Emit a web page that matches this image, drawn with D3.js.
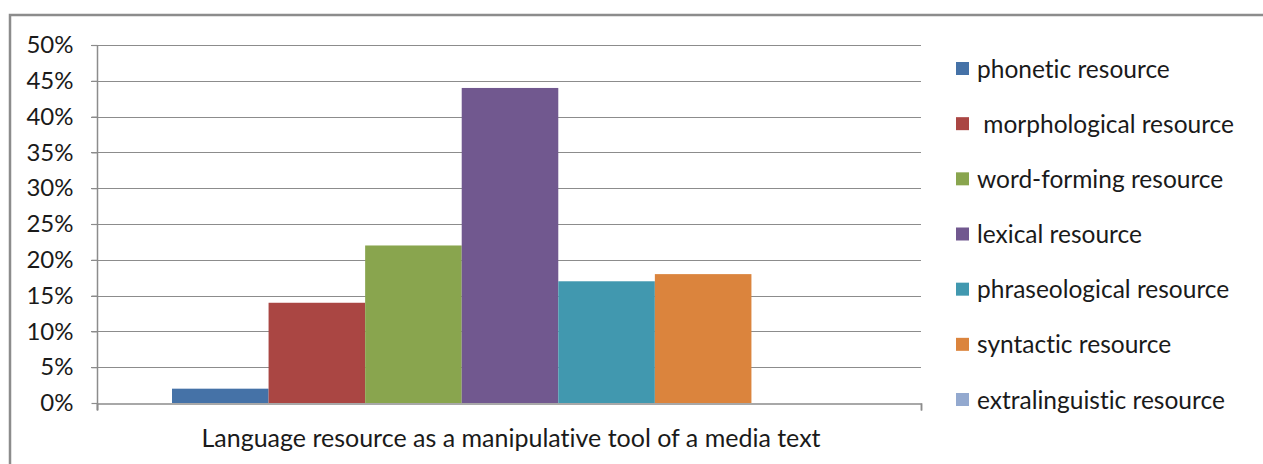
<!DOCTYPE html>
<html>
<head>
<meta charset="utf-8">
<script src="https://cdn.jsdelivr.net/npm/d3@7"></script>
<style>
  html, body { margin: 0; padding: 0; background: #fff; }
  svg { display: block; font-family: Lato, "Open Sans", sans-serif; font-variant-ligatures: none; font-feature-settings: "liga" 0; }
</style>
</head>
<body>
<svg id="chart" width="1263" height="464"></svg>
<script>
// Share of each language resource used as a manipulative tool
const category = "Language resource as a manipulative tool of a media text";
const seriesNames = [
  "phonetic resource",
  " morphological resource",
  "word-forming resource",
  "lexical resource",
  "phraseological resource",
  "syntactic resource",
  "extralinguistic resource"
];
const seriesValues = [0.02, 0.14, 0.22, 0.44, 0.17, 0.18, 0.0];
const seriesColors = ["#4572a7", "#aa4643", "#89a54e", "#71588f", "#4198af", "#db843d", "#93a9cf"];
const yTicks = [0, 0.05, 0.10, 0.15, 0.20, 0.25, 0.30, 0.35, 0.40, 0.45, 0.50];

const svg = d3.select("#chart");
const W = 1263, H = 464;

// outer chart frame (top and left edges visible)
svg.append("path")
  .attr("d", `M10,${H} V15 H${W}`)
  .attr("fill", "none")
  .attr("stroke", "#8c8c8c")
  .attr("stroke-width", 2.5);

const plot = { left: 97, right: 921, top: 45, bottom: 403 };

const y = d3.scaleLinear().domain([0, 0.5]).range([plot.bottom, plot.top]);
const x0 = d3.scaleBand().domain([category]).range([plot.left, plot.right]).paddingInner(0).paddingOuter(0);
// bars fill the middle of the category band, leaving equal gaps on both sides
const gapFrac = 148 / 824;
const x1 = d3.scaleBand()
  .domain(d3.range(seriesNames.length))
  .range([x0(category) + x0.bandwidth() * gapFrac / 2 + 1, x0(category) + x0.bandwidth() * (1 - gapFrac / 2) + 1])
  .padding(0);

// horizontal gridlines
svg.append("g")
  .selectAll("line")
  .data(yTicks.slice(1))
  .join("line")
  .attr("x1", plot.left - 6)
  .attr("x2", plot.right)
  .attr("y1", d => Math.round(y(d)) + 0.5)
  .attr("y2", d => Math.round(y(d)) + 0.5)
  .attr("stroke", "#8c8c8c")
  .attr("stroke-width", 1.2);

// bars
svg.append("g")
  .selectAll("rect")
  .data(seriesValues)
  .join("rect")
  .attr("x", (d, i) => x1(i))
  .attr("width", x1.bandwidth())
  .attr("y", d => y(d))
  .attr("height", d => y(0) - y(d))
  .attr("fill", (d, i) => seriesColors[i]);

// y axis
const yAxis = d3.axisLeft(y)
  .tickValues(yTicks)
  .tickFormat(d3.format(".0%"))
  .tickSize(6)
  .tickPadding(18);
const gy = svg.append("g")
  .attr("transform", `translate(${plot.left + 0.5},0)`)
  .call(yAxis);
gy.select(".domain").attr("stroke", "#8c8c8c").attr("stroke-width", 1.5)
  .attr("d", `M0,${plot.top}V${plot.bottom + 7}`);
gy.selectAll(".tick line").attr("stroke", "#8c8c8c").attr("stroke-width", 1.2);
gy.selectAll(".tick text")
  .attr("fill", "#1a1a1a")
  .style("font-size", "24px")
  .style("font-family", "Lato, sans-serif");

// x axis baseline with end ticks
const xAxis = d3.axisBottom(d3.scaleLinear().domain([0, 1]).range([plot.left, plot.right]))
  .tickValues([0, 1])
  .tickSize(7)
  .tickFormat("");
const gx = svg.append("g")
  .attr("transform", `translate(0,${plot.bottom + 0.5})`)
  .call(xAxis);
gx.select(".domain").attr("stroke", "#8c8c8c").attr("stroke-width", 1.5);
gx.selectAll(".tick line").attr("stroke", "#8c8c8c").attr("stroke-width", 1.5);

// category label
svg.append("text")
  .attr("x", 511)
  .attr("y", 447)
  .attr("text-anchor", "middle")
  .attr("fill", "#1a1a1a")
  .style("font-size", "25px")
  .text(category);

// legend
const legend = svg.append("g").attr("transform", "translate(956,0)");
const rowY = d3.scaleLinear().domain([0, seriesNames.length - 1]).range([69, 400]);
const item = legend.selectAll("g")
  .data(seriesNames)
  .join("g")
  .attr("transform", (d, i) => `translate(0,${rowY(i)})`);
item.append("rect")
  .attr("x", 0)
  .attr("y", -7)
  .attr("width", 13)
  .attr("height", 13)
  .attr("fill", (d, i) => seriesColors[i]);
item.append("text")
  .attr("x", 21)
  .attr("y", 0)
  .attr("dy", "0.35em")
  .attr("fill", "#1a1a1a")
  .style("font-size", "24.5px")
  .style("white-space", "pre")
  .text(d => d);
</script>
</body>
</html>
